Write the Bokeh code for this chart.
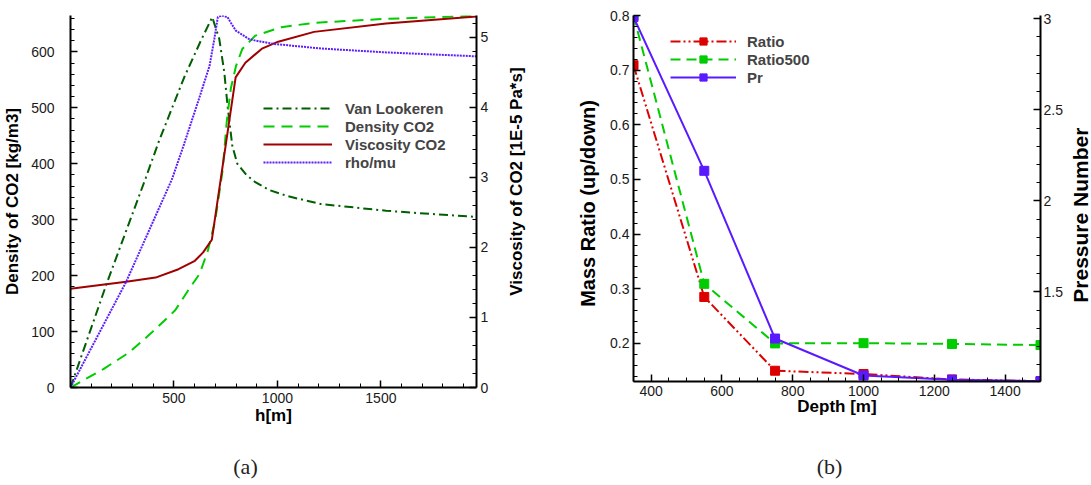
import math
from bokeh.plotting import figure
from bokeh.models import Range1d, LinearAxis, FixedTicker, Legend, LegendItem, NumeralTickFormatter
from bokeh.core.properties import value
from bokeh.layouts import row, column
from bokeh.embed import file_html
from bokeh.resources import INLINE

# ---------------- (a) data ----------------
h_vl = [0, 174, 364, 427, 550, 630, 685, 719, 743, 760, 782, 806, 850, 893, 960, 1050, 1209, 1367, 1525, 1750, 1962]
van_lookeren = [0, 185, 375, 440, 555, 620, 662, 623, 564, 500, 432, 400, 380, 367, 353, 342, 328, 322, 316, 310, 305]

h_den = [0, 159, 285, 395, 506, 580, 624, 664, 700, 735, 755, 775, 800, 830, 893, 1019, 1177, 1524, 1840, 1962]
density_co2 = [0, 33, 63, 99, 138, 180, 203, 245, 300, 388, 475, 535, 575, 605, 629, 644, 652, 659, 663, 665]

h_vis = [0, 269, 411, 522, 601, 641, 683, 798, 845, 925, 1004, 1177, 1525, 1962]
viscosity_co2 = [1.41, 1.51, 1.57, 1.69, 1.81, 1.93, 2.11, 4.43, 4.64, 4.84, 4.94, 5.08, 5.20, 5.30]

h_rm = [0, 269, 490, 546, 620, 672, 695, 712, 730, 759, 775, 799, 862, 895, 988, 1211, 1527, 1962]
rho_mu = [0, 189, 372, 432, 515, 575, 623, 662, 665, 662, 652, 638, 623, 620, 614, 606, 599, 592]

# ---------------- (b) data ----------------
depth = [350, 550, 750, 1000, 1250, 1500]
ratio = [0.709, 0.285, 0.150, 0.144, 0.134, 0.131]
ratio500 = [0.800, 0.309, 0.200, 0.2005, 0.199, 0.197]
pr = [3.01, 2.165, 1.244, 1.041, 1.018, 1.010]

FONT = "Liberation Sans"
P1_H = 449      # figure (a) height
P2_H = 443      # figure (b) height
BOTTOM = 62     # shared bottom border of the row
CAP_H = 485 - P1_H


def style_axis(ax, lbl_standoff, title_standoff=5, title_size="17px"):
    ax.axis_line_width = 2
    ax.axis_line_color = "black"
    ax.major_tick_in = 7
    ax.major_tick_out = 0
    ax.minor_tick_in = 4
    ax.minor_tick_out = 0
    ax.major_tick_line_width = 1.5
    ax.minor_tick_line_width = 1
    ax.major_tick_line_color = "black"
    ax.minor_tick_line_color = "black"
    ax.major_label_text_font = FONT
    ax.major_label_text_font_size = "14px"
    ax.major_label_text_color = "#1a1a1a"
    ax.major_label_standoff = lbl_standoff
    ax.axis_label_text_font = FONT
    ax.axis_label_text_font_size = title_size
    ax.axis_label_text_font_style = "bold"
    ax.axis_label_text_color = "black"
    ax.axis_label_standoff = title_standoff


def text_strip(width, height, texts, xs, ys, angle, size, style, font=FONT, color="black"):
    """A bare figure (no axes) that only carries text placed in its own pixel frame."""
    f = figure(width=width, height=height, output_backend="svg", toolbar_location=None,
               x_range=Range1d(0, width), y_range=Range1d(0, height),
               x_axis_location=None, y_axis_location=None,
               min_border=0, min_border_left=0, min_border_right=0,
               min_border_top=0, min_border_bottom=0)
    f.outline_line_color = None
    f.grid.visible = False
    f.text(x=xs, y=ys, text=texts, angle=angle, text_align="center", text_baseline="middle",
           text_font=value(font), text_font_size=value(size), text_font_style=style,
           text_color=color)
    return f


# ================= figure (a) =================
p1 = figure(width=496, height=P1_H, output_backend="svg", toolbar_location=None,
            x_range=Range1d(0, 1962), y_range=Range1d(0, 665),
            x_axis_location=None, y_axis_location=None,
            min_border_left=62, min_border_right=20, min_border_top=15, min_border_bottom=BOTTOM)
p1.outline_line_color = None
p1.grid.visible = False
p1.extra_y_ranges = {"visc": Range1d(0, 5.314)}

xa1 = LinearAxis(ticker=FixedTicker(ticks=[500, 1000, 1500],
                                    minor_ticks=[v for v in range(100, 2000, 100) if v % 500]),
                 axis_label="h[m]")
style_axis(xa1, 5, 0)
p1.add_layout(xa1, "below")

ya1 = LinearAxis(ticker=FixedTicker(ticks=list(range(0, 700, 100)),
                                    minor_ticks=[v for v in range(20, 680, 20) if v % 100]),
                 axis_label="Density of CO2 [kg/m3]")
style_axis(ya1, 16, 6)
p1.add_layout(ya1, "left")

ya1r = LinearAxis(y_range_name="visc",
                  ticker=FixedTicker(ticks=[0, 1, 2, 3, 4, 5],
                                     minor_ticks=[round(0.2 * i, 1) for i in range(1, 27) if i % 5]))
style_axis(ya1r, 4)
p1.add_layout(ya1r, "right")

r_vl = p1.line(h_vl, van_lookeren, line_color="#005f00", line_width=2, line_dash="9 4 2 4")
r_den = p1.line(h_den, density_co2, line_color="#00cc00", line_width=2, line_dash="11 7")
r_vis = p1.line(h_vis, viscosity_co2, line_color="#a00000", line_width=2, y_range_name="visc")
r_rm = p1.line(h_rm, rho_mu, line_color="#5c1dff", line_width=2, line_dash="2 1")

leg1 = Legend(items=[LegendItem(label="Van Lookeren", renderers=[r_vl]),
                     LegendItem(label="Density CO2", renderers=[r_den]),
                     LegendItem(label="Viscosity CO2", renderers=[r_vis]),
                     LegendItem(label="rho/mu", renderers=[r_rm])],
              location=(193, 216))
leg1.padding = 0
leg1.margin = 0
leg1.spacing = 0
leg1.glyph_width = 69
leg1.glyph_height = 18
leg1.label_height = 18
leg1.label_standoff = 13
leg1.label_text_font = FONT
leg1.label_text_font_size = "15px"
leg1.label_text_font_style = "bold"
leg1.background_fill_alpha = 0
leg1.border_line_alpha = 0
p1.add_layout(leg1)

# right-hand axis title of (a), reading bottom-to-top
visc_title = text_strip(64, P2_H, ["Viscosity of CO2 [1E-5 Pa*s]"], [19.5], [P2_H - 201],
                        math.pi / 2, "17px", "bold")
# left-hand axis title of (b)
mass_title = text_strip(45, P2_H, ["Mass Ratio (up/down)"], [27.5], [P2_H - 227.5],
                        math.pi / 2, "20px", "bold")

# ================= figure (b) =================
p2 = figure(width=461, height=P2_H, output_backend="svg", toolbar_location=None,
            x_range=Range1d(350, 1500), y_range=Range1d(0.1303, 0.8),
            x_axis_location=None, y_axis_location=None,
            min_border_left=28, min_border_right=26, min_border_top=9, min_border_bottom=BOTTOM)
p2.outline_line_color = None
p2.grid.visible = False
p2.extra_y_ranges = {"pr": Range1d(1.008, 3.018)}

xa2 = LinearAxis(ticker=FixedTicker(ticks=[400, 600, 800, 1000, 1200, 1400],
                                    minor_ticks=[v for v in range(350, 1550, 50) if v % 200]),
                 axis_label="Depth [m]")
style_axis(xa2, 4, -2)
p2.add_layout(xa2, "below")

ya2 = LinearAxis(ticker=FixedTicker(ticks=[0.2, 0.3, 0.4, 0.5, 0.6, 0.7, 0.8],
                                    minor_ticks=[round(0.02 * i, 2) for i in range(7, 40) if i % 5]))
style_axis(ya2, 4)
ya2.formatter = NumeralTickFormatter(format="0.0")
p2.add_layout(ya2, "left")

ya2r = LinearAxis(y_range_name="pr",
                  ticker=FixedTicker(ticks=[1.5, 2, 2.5, 3],
                                     minor_ticks=[round(0.1 * i, 1) for i in range(11, 30) if i % 5]))
style_axis(ya2r, 3)
ya2r.formatter = NumeralTickFormatter(format="0.[0]")
p2.add_layout(ya2r, "right")

c_ratio, c_r500, c_pr = "#dd0000", "#00cc00", "#5a1aff"
l_ratio = p2.line(depth, ratio, line_color=c_ratio, line_width=2, line_dash="10 3 2 3 2 3")
s_ratio = p2.scatter(depth, ratio, marker="square", size=9, fill_color=c_ratio, line_color=c_ratio)
l_r500 = p2.line(depth, ratio500, line_color=c_r500, line_width=2, line_dash="10 6")
s_r500 = p2.scatter(depth, ratio500, marker="square", size=9, fill_color=c_r500, line_color=c_r500)
l_pr = p2.line(depth, pr, line_color=c_pr, line_width=2, y_range_name="pr")
s_pr = p2.scatter(depth, pr, marker="square", size=9, fill_color=c_pr, line_color=c_pr, y_range_name="pr")

leg2 = Legend(items=[LegendItem(label="Ratio", renderers=[l_ratio, s_ratio]),
                     LegendItem(label="Ratio500", renderers=[l_r500, s_r500]),
                     LegendItem(label="Pr", renderers=[l_pr, s_pr])],
              location=(37, 295))
leg2.padding = 0
leg2.margin = 0
leg2.spacing = 0
leg2.glyph_width = 66
leg2.glyph_height = 18
leg2.label_height = 18
leg2.label_standoff = 11
leg2.label_text_font = FONT
leg2.label_text_font_size = "15px"
leg2.label_text_font_style = "bold"
leg2.background_fill_alpha = 0
leg2.border_line_alpha = 0
p2.add_layout(leg2)

# right-hand axis title of (b)
pr_title = text_strip(25, P2_H, ["Pressure Number"], [13.7], [P2_H - 241.7],
                      math.pi / 2, "21px", "bold")

# ================= captions =================
captions = text_strip(1091, CAP_H, ["(a)", "(b)"], [245, 829], [19, 19],
                      0, "22px", "normal", font="Liberation Serif", color="#222222")

layout = column(row(p1, visc_title, mass_title, p2, pr_title), captions)
open("out.html", "w").write(file_html(layout, INLINE))
